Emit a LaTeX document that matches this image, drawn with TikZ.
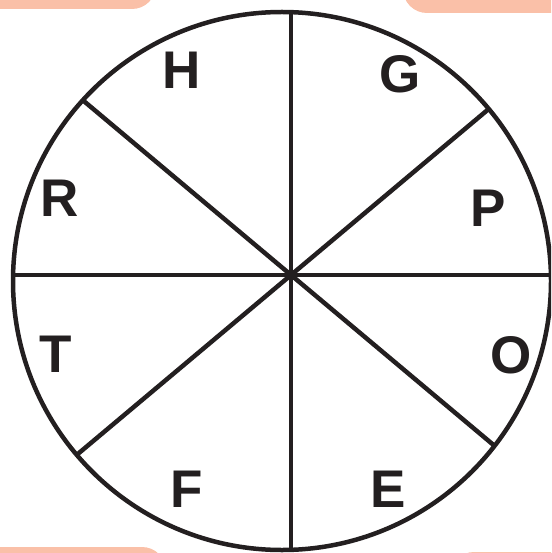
\documentclass[tikz,border=0pt]{standalone}
\usepackage{fontspec}
\setmainfont{Liberation Sans}
\begin{document}
\begin{tikzpicture}[x=1pt,y=-1pt,
  peach/.style={fill=peachc, draw=none, rounded corners=24pt},
  spoke/.style={draw=inkc, line width=4.5pt},
  letter/.style={font=\fontsize{53}{53}\selectfont\bfseries, text=inkc, inner sep=0pt, anchor=center}]
\definecolor{peachc}{RGB}{250,192,168}
\definecolor{inkc}{RGB}{35,31,32}
\useasboundingbox (0,0) rectangle (551,553);
\clip (0,0) rectangle (551,553);
% peach tabs
\path[peach] (-40,-40) rectangle (156,9);
\path[peach] (403,-40) rectangle (600,13);
\path[peach] (-40,547) rectangle (166,600);
\path[peach] (450,552) rectangle (600,600);
% wheel
\node[draw=inkc, line width=4.5pt, circle, minimum size=538pt, inner sep=0pt] (disc) at (282,281) {};
\coordinate (hub) at (291,275);
\coordinate (eN) at (291,12);
\coordinate (eS) at (291,550);
\coordinate (eW) at (13,275);
\coordinate (eE) at (551,275);
\coordinate (eNW) at (82.8,100.2);
\coordinate (eNE) at (488.8,108.9);
\coordinate (eSW) at (76.7,454.9);
\coordinate (eSE) at (494.6,445.9);
\foreach \e in {eN,eS,eW,eE,eNW,eNE,eSW,eSE}
  \draw[spoke, line cap=butt] (hub) -- (\e);
% letters
\node[letter] (lH) at (182,70) {H};
\node[letter] (lG) at (400,74) {G};
\node[letter] (lR) at (60,198) {R};
\node[letter] (lP) at (488,208) {P};
\node[letter] (lT) at (56,354) {T};
\node[letter] (lO) at (511,355) {O};
\node[letter] (lF) at (187,489) {F};
\node[letter] (lE) at (388,489) {E};
\end{tikzpicture}
\end{document}
